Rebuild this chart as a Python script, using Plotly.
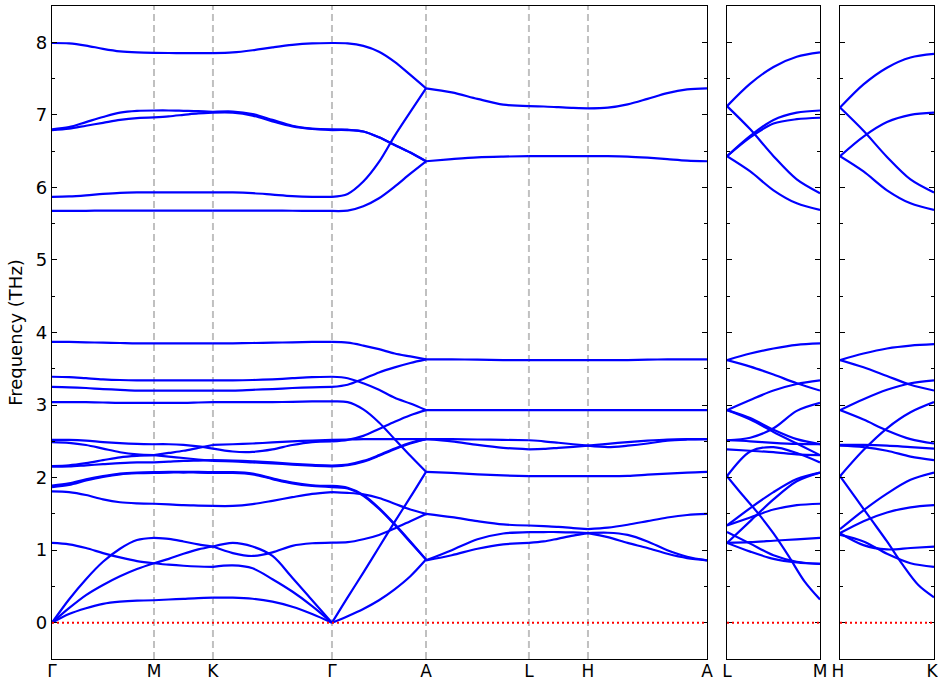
import plotly.graph_objects as go

# High-symmetry points along the main path (distance in units of |Gamma-M|)
path_labels = ["Γ", "M", "K", "Γ", "A", "L", "H", "A"]
path_pos = [0.0, 1.0, 1.578, 2.745, 3.667, 4.676, 5.255, 6.422]
side_len = 0.922  # length of the L-M and H-K paths (parallel to c*)
freq_ticks = [0, 1, 2, 3, 4, 5, 6, 7, 8]

# Phonon frequencies (THz) sampled at evenly spaced q-points on each segment
bands_GM = [
    [0, 0.12, 0.20, 0.26, 0.29, 0.305, 0.31],
    [0, 0.20, 0.38, 0.52, 0.64, 0.74, 0.82],
    [0, 0.32, 0.60, 0.84, 1.02, 1.14, 1.17],
    [1.10, 1.08, 1.03, 0.96, 0.90, 0.85, 0.82],
    [1.81, 1.80, 1.76, 1.70, 1.66, 1.645, 1.64],
    [1.87, 1.90, 1.96, 2.01, 2.045, 2.06, 2.065],
    [1.89, 1.92, 1.975, 2.02, 2.055, 2.07, 2.075],
    [2.15, 2.155, 2.17, 2.185, 2.20, 2.21, 2.21],
    [2.16, 2.17, 2.20, 2.24, 2.28, 2.30, 2.31],
    [2.49, 2.48, 2.45, 2.40, 2.35, 2.32, 2.31],
    [2.52, 2.52, 2.51, 2.49, 2.475, 2.465, 2.46],
    [3.04, 3.04, 3.04, 3.035, 3.03, 3.03, 3.03],
    [3.25, 3.245, 3.235, 3.22, 3.21, 3.20, 3.20],
    [3.39, 3.385, 3.37, 3.355, 3.345, 3.34, 3.34],
    [3.87, 3.87, 3.865, 3.86, 3.855, 3.85, 3.85],
    [5.675, 5.675, 5.677, 5.68, 5.68, 5.68, 5.68],
    [5.87, 5.875, 5.89, 5.91, 5.925, 5.93, 5.93],
    [6.79, 6.81, 6.85, 6.89, 6.93, 6.955, 6.965],
    [6.80, 6.83, 6.90, 6.97, 7.03, 7.055, 7.06],
    [7.99, 7.985, 7.955, 7.91, 7.875, 7.86, 7.855],
]

bands_MK = [
    [0.31, 0.32, 0.33, 0.34, 0.345],
    [0.82, 0.80, 0.785, 0.775, 0.77],
    [0.82, 0.88, 0.95, 1.01, 1.05],
    [1.17, 1.155, 1.12, 1.08, 1.05],
    [1.64, 1.63, 1.62, 1.615, 1.61],
    [2.065, 2.07, 2.07, 2.07, 2.065],
    [2.075, 2.08, 2.08, 2.08, 2.075],
    [2.21, 2.22, 2.23, 2.235, 2.24],
    [2.31, 2.29, 2.27, 2.25, 2.23],
    [2.31, 2.34, 2.37, 2.41, 2.45],
    [2.46, 2.46, 2.45, 2.43, 2.40],
    [3.03, 3.03, 3.03, 3.035, 3.04],
    [3.20, 3.20, 3.20, 3.20, 3.20],
    [3.34, 3.34, 3.34, 3.34, 3.34],
    [3.85, 3.85, 3.85, 3.85, 3.85],
    [5.68, 5.68, 5.68, 5.68, 5.68],
    [5.93, 5.93, 5.93, 5.93, 5.93],
    [6.965, 6.98, 7.00, 7.02, 7.03],
    [7.06, 7.06, 7.055, 7.05, 7.04],
    [7.855, 7.852, 7.85, 7.85, 7.85],
]

bands_KG = [
    [0.345, 0.345, 0.33, 0.29, 0.22, 0.12, 0],
    [0.77, 0.79, 0.75, 0.60, 0.43, 0.23, 0],
    [1.05, 1.10, 1.05, 0.92, 0.62, 0.31, 0],
    [1.05, 0.96, 0.92, 0.97, 1.06, 1.095, 1.105],
    [1.61, 1.61, 1.635, 1.68, 1.73, 1.775, 1.80],
    [2.065, 2.065, 2.045, 1.98, 1.92, 1.885, 1.87],
    [2.075, 2.075, 2.055, 1.99, 1.93, 1.895, 1.885],
    [2.24, 2.235, 2.225, 2.21, 2.19, 2.175, 2.165],
    [2.23, 2.225, 2.21, 2.195, 2.18, 2.165, 2.155],
    [2.40, 2.36, 2.355, 2.39, 2.45, 2.49, 2.50],
    [2.45, 2.46, 2.47, 2.485, 2.50, 2.51, 2.52],
    [3.04, 3.04, 3.04, 3.04, 3.045, 3.05, 3.05],
    [3.20, 3.20, 3.21, 3.22, 3.235, 3.245, 3.25],
    [3.34, 3.34, 3.345, 3.355, 3.37, 3.385, 3.39],
    [3.85, 3.85, 3.855, 3.86, 3.865, 3.87, 3.87],
    [5.68, 5.68, 5.68, 5.68, 5.678, 5.675, 5.675],
    [5.93, 5.93, 5.92, 5.90, 5.88, 5.87, 5.87],
    [7.03, 7.03, 6.99, 6.91, 6.84, 6.805, 6.79],
    [7.04, 7.045, 7.01, 6.93, 6.85, 6.81, 6.80],
    [7.85, 7.86, 7.89, 7.93, 7.965, 7.985, 7.99],
]

bands_GA = [
    [0, 0.09, 0.19, 0.31, 0.46, 0.64, 0.87],
    [0, 0.35, 0.69, 1.04, 1.39, 1.73, 2.08],
    [1.105, 1.11, 1.15, 1.21, 1.30, 1.40, 1.50],
    [1.80, 1.79, 1.77, 1.72, 1.64, 1.56, 1.50],
    [1.87, 1.85, 1.75, 1.57, 1.35, 1.11, 0.87],
    [1.885, 1.86, 1.76, 1.58, 1.36, 1.12, 0.87],
    [2.155, 2.17, 2.22, 2.30, 2.39, 2.47, 2.53],
    [2.165, 2.18, 2.23, 2.31, 2.40, 2.48, 2.53],
    [2.50, 2.52, 2.575, 2.67, 2.77, 2.86, 2.93],
    [2.52, 2.525, 2.53, 2.53, 2.53, 2.53, 2.53],
    [3.05, 3.04, 2.94, 2.76, 2.53, 2.30, 2.08],
    [3.25, 3.28, 3.36, 3.45, 3.52, 3.58, 3.63],
    [3.39, 3.37, 3.30, 3.21, 3.10, 3.02, 2.93],
    [3.87, 3.86, 3.82, 3.77, 3.71, 3.67, 3.63],
    [5.675, 5.68, 5.74, 5.85, 6.01, 6.19, 6.36],
    [5.87, 5.91, 6.08, 6.35, 6.71, 7.04, 7.365],
    [6.79, 6.79, 6.77, 6.69, 6.585, 6.48, 6.36],
    [6.80, 6.795, 6.77, 6.69, 6.585, 6.48, 6.36],
    [7.99, 7.985, 7.95, 7.87, 7.73, 7.55, 7.365],
]

bands_AL = [
    [0.86, 0.93, 1.02, 1.08, 1.10],
    [0.86, 1.00, 1.15, 1.23, 1.25],
    [1.50, 1.455, 1.40, 1.355, 1.34],
    [2.08, 2.065, 2.045, 2.03, 2.02],
    [2.53, 2.50, 2.45, 2.41, 2.39],
    [2.53, 2.53, 2.525, 2.52, 2.515],
    [2.93, 2.93, 2.93, 2.93, 2.93],
    [3.63, 3.63, 3.625, 3.62, 3.62],
    [6.36, 6.39, 6.415, 6.425, 6.43],
    [7.365, 7.31, 7.22, 7.14, 7.12],
]

bands_LH = [
    [1.10, 1.12, 1.16, 1.20, 1.235],
    [1.25, 1.25, 1.25, 1.245, 1.235],
    [1.34, 1.33, 1.32, 1.305, 1.29],
    [2.02, 2.02, 2.02, 2.02, 2.02],
    [2.39, 2.395, 2.41, 2.425, 2.44],
    [2.515, 2.50, 2.48, 2.46, 2.44],
    [2.93, 2.93, 2.93, 2.93, 2.93],
    [3.62, 3.62, 3.62, 3.62, 3.62],
    [6.43, 6.43, 6.43, 6.43, 6.43],
    [7.12, 7.115, 7.105, 7.095, 7.09],
]

bands_HA = [
    [1.235, 1.18, 1.10, 1.03, 0.95, 0.89, 0.86],
    [1.235, 1.24, 1.21, 1.12, 1.00, 0.91, 0.86],
    [1.29, 1.31, 1.35, 1.40, 1.45, 1.485, 1.50],
    [2.02, 2.02, 2.025, 2.04, 2.055, 2.07, 2.08],
    [2.44, 2.42, 2.44, 2.47, 2.51, 2.525, 2.53],
    [2.44, 2.465, 2.49, 2.51, 2.525, 2.53, 2.53],
    [2.93, 2.93, 2.93, 2.93, 2.93, 2.93, 2.93],
    [3.62, 3.62, 3.62, 3.625, 3.63, 3.63, 3.63],
    [6.43, 6.43, 6.425, 6.41, 6.39, 6.37, 6.36],
    [7.09, 7.10, 7.145, 7.22, 7.30, 7.35, 7.365],
]

bands_LM = [
    [3.62, 3.71, 3.78, 3.83, 3.85],
    [3.62, 3.53, 3.42, 3.30, 3.20],
    [2.93, 3.07, 3.20, 3.29, 3.34],
    [2.93, 2.82, 2.66, 2.53, 2.46],
    [2.93, 2.80, 2.63, 2.47, 2.31],
    [2.515, 2.55, 2.68, 2.92, 3.03],
    [2.515, 2.50, 2.48, 2.465, 2.46],
    [2.39, 2.37, 2.35, 2.32, 2.31],
    [2.02, 2.36, 2.42, 2.34, 2.21],
    [2.02, 1.76, 1.51, 1.23, 0.91, 0.57, 0.32],
    [1.34, 1.58, 1.80, 1.98, 2.07],
    [1.10, 1.40, 1.70, 1.95, 2.07],
    [1.34, 1.45, 1.56, 1.62, 1.64],
    [1.10, 1.11, 1.13, 1.15, 1.17],
    [1.25, 1.09, 0.93, 0.84, 0.81],
    [1.10, 0.98, 0.88, 0.83, 0.81],
    [7.12, 7.43, 7.66, 7.80, 7.86],
    [7.12, 6.80, 6.43, 6.11, 5.92],
    [6.43, 6.71, 6.93, 7.03, 7.06],
    [6.43, 6.69, 6.88, 6.94, 6.96],
    [6.43, 6.22, 5.96, 5.78, 5.69],
]

bands_HK = [
    [3.62, 3.71, 3.78, 3.82, 3.84],
    [3.62, 3.52, 3.40, 3.28, 3.20],
    [2.93, 3.08, 3.21, 3.30, 3.34],
    [2.93, 2.80, 2.65, 2.53, 2.47],
    [2.45, 2.45, 2.44, 2.42, 2.40],
    [2.44, 2.42, 2.37, 2.29, 2.24],
    [2.02, 2.38, 2.68, 2.90, 3.04],
    [2.02, 1.72, 1.42, 1.12, 0.80, 0.52, 0.35],
    [1.29, 1.55, 1.78, 1.97, 2.07],
    [1.235, 1.40, 1.52, 1.59, 1.62],
    [1.235, 1.07, 1.01, 1.03, 1.05],
    [1.21, 1.12, 0.95, 0.82, 0.77],
    [7.10, 7.42, 7.65, 7.79, 7.84],
    [7.10, 6.78, 6.42, 6.11, 5.93],
    [6.43, 6.70, 6.90, 7.00, 7.03],
    [6.43, 6.22, 5.96, 5.78, 5.69],
]

BLUE = "#0000ff"

segments = [
    ("x", "y", path_pos[0], path_pos[1], bands_GM),
    ("x", "y", path_pos[1], path_pos[2], bands_MK),
    ("x", "y", path_pos[2], path_pos[3], bands_KG),
    ("x", "y", path_pos[3], path_pos[4], bands_GA),
    ("x", "y", path_pos[4], path_pos[5], bands_AL),
    ("x", "y", path_pos[5], path_pos[6], bands_LH),
    ("x", "y", path_pos[6], path_pos[7], bands_HA),
    ("x2", "y2", 0.0, side_len, bands_LM),
    ("x3", "y3", 0.0, side_len, bands_HK),
]

fig = go.Figure()
for xa, ya, q0, q1, bands in segments:
    for freqs in bands:
        n = len(freqs)
        qs = [q0 + (q1 - q0) * i / (n - 1) for i in range(n)]
        fig.add_trace(go.Scatter(
            x=qs, y=freqs, mode="lines", xaxis=xa, yaxis=ya,
            line=dict(color=BLUE, width=2.2, shape="spline", smoothing=0.9),
            showlegend=False, hoverinfo="skip",
        ))

FONT = dict(family="DejaVu Sans", size=18, color="black")
XFONT = dict(family="DejaVu Sans", size=17, color="black")

common_x = dict(showgrid=False, zeroline=False, showline=True, mirror=True,
                linecolor="black", linewidth=1.2, ticks="", tickfont=XFONT,
                automargin=False, ticklabelstandoff=-4,
                ticklabeloverflow="allow")
common_y = dict(range=[-0.5, 8.5], showgrid=False, zeroline=False,
                showline=True, mirror="ticks", linecolor="black",
                linewidth=1.2, ticks="inside", ticklen=5, tickwidth=1,
                tickcolor="black", tickvals=freq_ticks,
                minor=dict(ticks="inside", ticklen=3, tickwidth=1,
                           tickcolor="black", dtick=0.5, tick0=0),
                tickfont=FONT, automargin=False)

fig.update_layout(
    width=938, height=683,
    margin=dict(l=52, r=4, t=6, b=24),
    paper_bgcolor="white", plot_bgcolor="white",
    xaxis=dict(domain=[0, 655 / 882], range=[path_pos[0], path_pos[-1]],
               tickvals=path_pos, ticktext=path_labels, **common_x),
    yaxis=dict(domain=[0, 1], anchor="x",
               title=dict(text="Frequency (THz)", font=FONT, standoff=8),
               **common_y),
    xaxis2=dict(domain=[675 / 882, 768 / 882], range=[0, side_len],
                anchor="y2", tickvals=[0, side_len], ticktext=["L", "M"],
                **common_x),
    yaxis2=dict(domain=[0, 1], anchor="x2", showticklabels=False, **common_y),
    xaxis3=dict(domain=[788 / 882, 1], range=[0, side_len],
                anchor="y3", tickvals=[0, side_len], ticktext=["H", "K"],
                ticklabelshift=-2, **common_x),
    yaxis3=dict(domain=[0, 1], anchor="x3", showticklabels=False, **common_y),
)

# Dashed guides at the interior high-symmetry points
for q in path_pos[1:-1]:
    fig.add_shape(type="line", xref="x", yref="y domain", x0=q, x1=q,
                  y0=0, y1=1, layer="below",
                  line=dict(color="#c0c0c0", width=2, dash="7px,4px"))

# Zero-frequency reference line in every panel
for xd, ya in [("x domain", "y"), ("x2 domain", "y2"), ("x3 domain", "y3")]:
    fig.add_shape(type="line", xref=xd, yref=ya, x0=0, x1=1, y0=0, y1=0,
                  layer="above",
                  line=dict(color="red", width=2, dash="2px,3px"))

fig.write_html("out.html")
